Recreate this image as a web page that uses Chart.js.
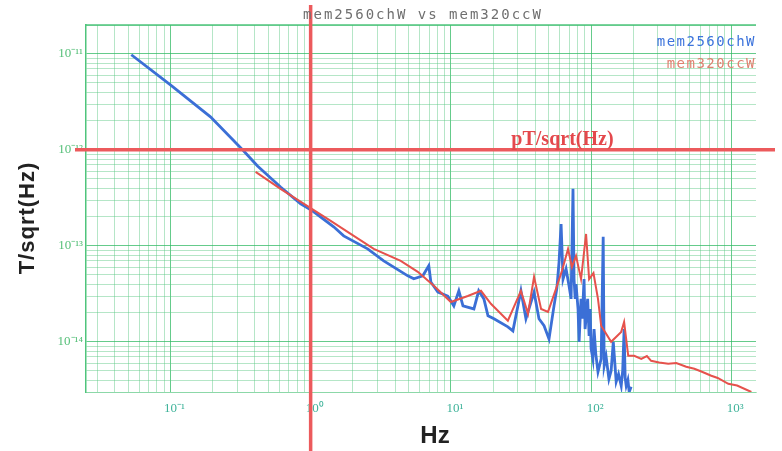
<!DOCTYPE html>
<html>
<head>
<meta charset="utf-8">
<script src="https://cdn.jsdelivr.net/npm/chart.js@4.4.1/dist/chart.umd.min.js"></script>
<style>
  body { margin: 0; background: #fff; }
</style>
</head>
<body>
<canvas id="psd" width="782" height="451"></canvas>
<script>
// mem2560chW (blue) - frequency in Hz, noise in T/sqrt(Hz)
const blueHz = [0.0526, 0.1, 0.193, 0.332, 0.418, 0.61, 0.849, 1.03, 1.46, 1.72, 2.55, 3.32, 4.93, 5.44,
  6.31, 6.96, 7.2, 8.08, 9.5, 10.5, 11.4, 12.2, 14.6, 15.8, 17.2, 18.4, 20.3, 25.5, 27.7, 31.6, 34.3,
  39.2, 42.5, 46.2, 50.1, 54.4, 57, 59.1, 61.1, 63.1, 66.3, 69.6, 72, 74.3, 75.6, 77, 78.1, 80.7, 82.1,
  84.8, 86.5, 89.1, 90.6, 92.1, 94.5, 96.8, 98.5, 100, 103, 105, 108, 112, 118, 122, 124, 128, 134, 139,
  144, 151, 157, 164, 168, 172, 175, 178, 183, 187, 193];
const blueT = [9.8e-12, 4.75e-12, 2.21e-12, 9.8e-13, 6.8e-13, 4.1e-13, 2.74e-13, 2.32e-13, 1.58e-13, 1.27e-13,
  9.3e-14, 6.98e-14, 4.87e-14, 4.53e-14, 4.87e-14, 6.2e-14, 4.2e-14, 3.3e-14, 3.0e-14, 2.37e-14, 3.4e-14,
  2.37e-14, 2.2e-14, 3.4e-14, 2.8e-14, 1.87e-14, 1.74e-14, 1.43e-14, 1.3e-14, 3.4e-14, 1.74e-14, 3.3e-14,
  1.74e-14, 1.47e-14, 1.07e-14, 2.37e-14, 3.6e-14, 6.8e-14, 1.69e-13, 4.5e-14, 5.75e-14, 3.83e-14, 2.8e-14,
  3.93e-13, 4.5e-14, 2.8e-14, 4.0e-14, 2.2e-14, 1.0e-14, 2.8e-14, 1.74e-14, 4.5e-14, 1.36e-14, 1.74e-14,
  2.8e-14, 1.15e-14, 2.2e-14, 8.5e-15, 6.65e-15, 1.36e-14, 7.5e-15, 4.87e-15, 6.65e-15, 1.24e-13, 5.6e-15,
  7.0e-15, 4.1e-15, 5.0e-15, 1.0e-14, 3.83e-15, 4.6e-15, 3.48e-15, 5.0e-15, 1.36e-14, 4.2e-15, 3.48e-15,
  4.0e-15, 3.0e-15, 3.4e-15];

// mem320ccW (red)
const redHz = [0.405, 0.61, 0.92, 1.39, 1.93, 2.82, 4.39, 5.81, 7.56, 10, 13.2, 16.4, 19.3, 25.5, 31.6,
  35.5, 39.2, 44, 49.3, 56.2, 62, 68.5, 73, 78.1, 84.8, 92.1, 96.8, 104, 112, 118, 139, 164, 172, 184, 203,
  228, 250, 268, 306, 355, 405, 477, 545, 611, 720, 800, 952, 1100, 1390];
const redT = [5.9e-13, 3.93e-13, 2.67e-13, 1.82e-13, 1.33e-13, 9.3e-14, 6.98e-14, 5.36e-14, 3.83e-14, 2.6e-14,
  3.0e-14, 3.4e-14, 2.49e-14, 1.66e-14, 3.4e-14, 1.96e-14, 4.75e-14, 2.2e-14, 2.05e-14, 3.56e-14, 5.5e-14,
  9.3e-14, 6.0e-14, 7.87e-14, 4.5e-14, 1.33e-13, 4.5e-14, 5.2e-14, 2.8e-14, 1.47e-14, 1.0e-14, 1.27e-14,
  1.61e-14, 7.14e-15, 7.14e-15, 6.65e-15, 7.1e-15, 6.34e-15, 6.1e-15, 5.9e-15, 6.0e-15, 5.5e-15, 5.24e-15,
  4.9e-15, 4.43e-15, 4.2e-15, 3.65e-15, 3.5e-15, 3.0e-15];

// axes
const xMin = 0.025, xMax = 1500;
const yMin = 3e-15, yMax = 2e-11;
const xDecades = [-2, -1, 0, 1, 2, 3];
const yDecades = [-15, -14, -13, -12, -11];
const xLabelExps = [-1, 0, 1, 2, 3];
const xLabels = ['10⁻¹', '10⁰', '10¹', '10²', '10³'];
const yLabelExps = [-14, -13, -12, -11];
const yLabels = ['10⁻¹⁴', '10⁻¹³', '10⁻¹²', '10⁻¹¹'];

// red marker lines
const markT = 1e-12;
const markHz = 1;

const GREEN_MAJOR = 'rgba(50,185,100,0.75)';
const GREEN_MINOR = 'rgba(90,200,130,0.45)';

function logTicks(decades, min, max) {
    const out = [];
    decades.forEach(e => {
        for (let m = 1; m <= 9; m++) {
            const v = m * Math.pow(10, e);
            if (v >= min * 0.999 && v <= max * 1.001) out.push({ value: v });
        }
    });
    return out;
}

function isDecade(v) {
    const e = Math.log10(v);
    return Math.abs(e - Math.round(e)) < 1e-6;
}

function decadeLabel(v, exps, labels) {
    if (!isDecade(v)) return '';
    const i = exps.indexOf(Math.round(Math.log10(v)));
    return i >= 0 ? labels[i] : '';
}

const overlay = {
    id: 'overlay',
    afterDatasetsDraw(chart) {
        const { ctx, chartArea: a, scales: { x, y } } = chart;
        ctx.save();
        // top border
        ctx.strokeStyle = 'rgba(60,190,110,0.9)';
        ctx.lineWidth = 1.5;
        ctx.beginPath();
        ctx.moveTo(a.left, a.top);
        ctx.lineTo(a.right, a.top);
        ctx.stroke();

        // red reference lines
        ctx.strokeStyle = '#ec5a5c';
        ctx.lineWidth = 3.5;
        const hy = y.getPixelForValue(markT);
        const vx = x.getPixelForValue(markHz);
        ctx.beginPath();
        ctx.moveTo(75, hy); ctx.lineTo(775, hy);
        ctx.moveTo(vx, 5); ctx.lineTo(vx, 451);
        ctx.stroke();

        ctx.fillStyle = '#e4484c';
        ctx.font = 'bold 20px "Liberation Serif", serif';
        ctx.textAlign = 'left';
        ctx.textBaseline = 'alphabetic';
        ctx.fillText('pT/sqrt(Hz)', x.getPixelForValue(27), hy - 5);

        // title
        const cx = (a.left + a.right) / 2;
        ctx.font = '14px "DejaVu Sans Mono", monospace';
        ctx.letterSpacing = '2px';
        ctx.textAlign = 'center';
        ctx.textBaseline = 'middle';
        ctx.fillStyle = '#6f6f6f';
        ctx.fillText('mem2560chW vs mem320ccW', cx + 2, 15);

        // legend
        ctx.letterSpacing = '1.5px';
        ctx.textAlign = 'right';
        ctx.fillStyle = '#3d74dc';
        ctx.fillText('mem2560chW', a.right, 42);
        ctx.fillStyle = '#e08070';
        ctx.fillText('mem320ccW', a.right, 64);
        ctx.letterSpacing = '0px';

        // axis titles
        ctx.fillStyle = '#222';
        ctx.textAlign = 'center';
        ctx.font = 'bold 24px "Liberation Sans", Arial, sans-serif';
        ctx.fillText('Hz', 435, 436);
        ctx.save();
        ctx.translate(28, 218);
        ctx.rotate(-Math.PI / 2);
        ctx.font = 'bold 22px "Liberation Sans", Arial, sans-serif';
        ctx.letterSpacing = '1px';
        ctx.fillText('T/sqrt(Hz)', 0, 0);
        ctx.restore();
        ctx.restore();
    }
};

new Chart(document.getElementById('psd'), {
    type: 'line',
    data: {
        datasets: [
            {
                label: 'mem320ccW',
                data: redHz.map((f, i) => ({ x: f, y: redT[i] })),
                borderColor: '#e6524c',
                borderWidth: 2,
                pointRadius: 0,
                tension: 0
            },
            {
                label: 'mem2560chW',
                data: blueHz.map((f, i) => ({ x: f, y: blueT[i] })),
                borderColor: '#3b6fd6',
                borderWidth: 2.8,
                pointRadius: 0,
                tension: 0
            }
        ]
    },
    options: {
        responsive: false,
        animation: false,
        layout: { padding: { top: 25, right: 26, left: 0, bottom: 0 } },
        plugins: { legend: { display: false }, title: { display: false }, tooltip: { enabled: false } },
        scales: {
            x: {
                type: 'logarithmic',
                min: xMin, max: xMax,
                afterBuildTicks: s => { s.ticks = logTicks(xDecades, xMin, xMax); },
                afterFit: s => { s.height = 59; },
                grid: {
                    drawTicks: false,
                    color: c => (c.tick && isDecade(c.tick.value)) ? GREEN_MAJOR : GREEN_MINOR,
                    lineWidth: 1
                },
                border: { display: true, color: GREEN_MINOR },
                ticks: {
                    autoSkip: false, maxRotation: 0, padding: 9, labelOffset: 4,
                    color: '#3fb39a',
                    font: { family: '"Liberation Serif", serif', size: 13 },
                    callback: v => decadeLabel(v, xLabelExps, xLabels)
                }
            },
            y: {
                type: 'logarithmic',
                min: yMin, max: yMax,
                afterBuildTicks: s => { s.ticks = logTicks(yDecades, yMin, yMax); },
                afterFit: s => { s.width = 86; },
                grid: {
                    drawTicks: false,
                    color: c => (c.tick && isDecade(c.tick.value)) ? GREEN_MAJOR : GREEN_MINOR,
                    lineWidth: 1
                },
                border: { display: true, color: 'rgba(60,190,110,0.9)', width: 1.5 },
                ticks: {
                    autoSkip: false, padding: 3,
                    color: '#55bf78',
                    font: { family: '"Liberation Serif", serif', size: 13 },
                    callback: v => decadeLabel(v, yLabelExps, yLabels)
                }
            }
        }
    },
    plugins: [overlay]
});
</script>
</body>
</html>
